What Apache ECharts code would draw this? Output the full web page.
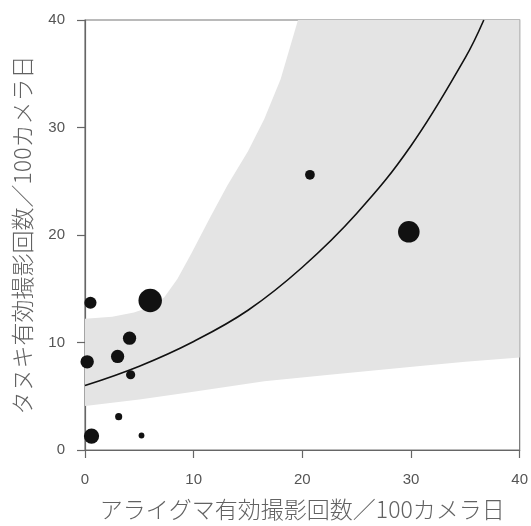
<!DOCTYPE html>
<html>
<head>
<meta charset="utf-8">
<script src="https://cdn.jsdelivr.net/npm/echarts@6/dist/echarts.min.js"></script>
<style>html,body{margin:0;padding:0;background:#fff;}#c{width:531px;height:526px;}</style>
</head>
<body>
<div id="c"></div>
<script>
// Observed sites: raccoon rate (x), tanuki rate (y), relative bubble weight
const raccoonRate = [0.2, 0.5, 0.6, 3.0, 4.1, 4.2, 3.1, 5.2, 6.0, 20.7, 29.8];
const tanukiRate  = [8.2, 13.7, 1.3, 8.7, 10.4, 7.0, 3.1, 1.35, 13.9, 25.6, 20.3];
const siteWeight  = [8.5, 7, 11, 8.3, 8.3, 4, 2.4, 1.6, 26, 4.5, 22];

// Fitted curve
const fitX = [0, 5, 10, 15, 20, 25, 30, 35, 36.7];
const fitY = [6.0, 7.8, 10.1, 13.0, 17.0, 22.0, 28.3, 36.5, 40];

// Confidence band edges
const upperX = [0, 2.5, 4.5, 6, 7.3, 8.5, 9.8, 11.5, 13.1, 15, 16.5, 18, 19.6, 40];
const upperY = [12.2, 12.4, 12.8, 13.3, 14.2, 15.9, 18.3, 21.6, 24.6, 27.8, 30.8, 34.5, 40, 40];
const lowerX = [0, 5, 9.2, 16.5, 22.5, 30.6, 35, 40];
const lowerY = [4.1, 4.7, 5.3, 6.4, 7.0, 7.8, 8.2, 8.6];

const xTicks = [0, 10, 20, 30, 40];
const yTicks = [0, 10, 20, 30, 40];

const xTitle = 'アライグマ有効撮影回数／100カメラ日';
const yTitle = 'タヌキ有効撮影回数／100カメラ日';

const points = raccoonRate.map((x, i) => [x, tanukiRate[i], siteWeight[i]]);
const fitLine = fitX.map((x, i) => [x, fitY[i]]);

const chart = echarts.init(document.getElementById('c'), null, {renderer: 'canvas'});
const axisText = {color: '#555', fontSize: 15, fontFamily: 'Liberation Sans, Arial, sans-serif'};
const titleText = {color: '#626262', fontSize: 23, fontWeight: 300, fontFamily: 'Noto Sans CJK JP, sans-serif'};

chart.setOption({
  animation: false,
  backgroundColor: '#fff',
  grid: {left: 85, right: 11, top: 20, bottom: 72, show: true, borderColor: '#777', borderWidth: 1.2, backgroundColor: '#fff'},
  xAxis: {
    type: 'value', min: xTicks[0], max: xTicks[xTicks.length - 1], interval: xTicks[1] - xTicks[0],
    splitLine: {show: false},
    axisLine: {show: true, lineStyle: {color: '#666', width: 1.2}},
    axisTick: {show: true, inside: false, length: 8, lineStyle: {color: '#666', width: 1.2}},
    axisLabel: Object.assign({margin: 22}, axisText),
    name: xTitle, nameLocation: 'middle', nameGap: 48, nameTextStyle: titleText
  },
  yAxis: {
    type: 'value', min: yTicks[0], max: yTicks[yTicks.length - 1], interval: yTicks[1] - yTicks[0],
    splitLine: {show: false},
    axisLine: {show: true, lineStyle: {color: '#666', width: 1.2}},
    axisTick: {show: true, inside: false, length: 8, lineStyle: {color: '#666', width: 1.2}},
    axisLabel: Object.assign({margin: 20}, axisText),
    name: yTitle, nameLocation: 'middle', nameGap: 51, nameTextStyle: titleText
  },
  series: [
    {
      type: 'custom',
      data: [[0, 0]],
      clip: true,
      silent: true,
      z: 1,
      renderItem: function (params, api) {
        const pts = [];
        for (let i = 0; i < upperX.length; i++) pts.push(api.coord([upperX[i], upperY[i]]));
        for (let i = lowerX.length - 1; i >= 0; i--) pts.push(api.coord([lowerX[i], lowerY[i]]));
        return {
          type: 'polygon',
          shape: {points: pts, smooth: 0},
          style: {fill: '#e4e4e4', stroke: 'none'}
        };
      }
    },
    {
      type: 'line',
      data: fitLine,
      smooth: 0.4,
      symbol: 'none',
      z: 3,
      lineStyle: {color: '#111', width: 1.6},
      clip: true
    },
    {
      type: 'scatter',
      data: points,
      z: 4,
      symbolSize: function (v) { return 4.6 * Math.sqrt(v[2]); },
      itemStyle: {color: '#111', opacity: 1},
      clip: false
    }
  ]
});
</script>
</body>
</html>
